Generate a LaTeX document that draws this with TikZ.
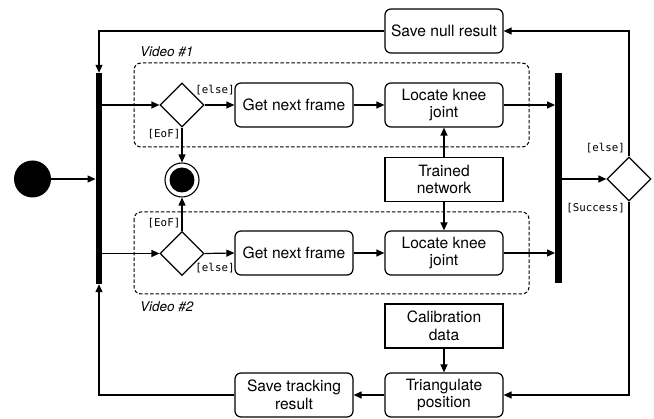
\documentclass[tikz,border=0pt]{standalone}
\usepackage{fontspec}
\setmainfont{TeX Gyre Heros}
\newfontfamily\guardfont{DejaVu Sans Mono}
\usetikzlibrary{shapes.geometric,arrows.meta}

\tikzset{
  act/.style={draw, rounded corners=6pt, line width=1.2pt, minimum width=118pt,
    minimum height=44pt, inner sep=1pt, align=center,
    font=\fontsize{15.6}{17.5}\selectfont},
  obj/.style={act, rounded corners=0pt},
  decision/.style={draw, diamond, aspect=1, line width=1.2pt, minimum width=44pt,
    minimum height=44pt, inner sep=0pt},
  syncbar/.style={fill=black, draw=none, inner sep=0pt, minimum width=6.5pt},
  arr/.style={line width=1.2pt, -{Triangle[length=8pt,width=7pt]}},
  guard/.style={font=\guardfont\fontsize{10.8}{12}\selectfont, inner sep=0pt},
  grouplabel/.style={font=\fontsize{13.5}{16}\selectfont\itshape, inner sep=0pt, anchor=west},
  groupbox/.style={draw, dash pattern=on 3.5pt off 2pt, line width=1pt, rounded corners=7pt},
}

\begin{document}
\begin{tikzpicture}[x=1pt, y=-1pt]
\useasboundingbox (0,0) rectangle (654,419);

% frames for the two videos
\draw[groupbox] (134,63) rectangle (529,147);
\draw[groupbox] (134,212) rectangle (529,294);
\node[grouplabel] (v1) at (140,52) {Video \#1};
\node[grouplabel] (v2) at (140,307) {Video \#2};

% initial node, fork and join bars
\node[circle, fill=black, minimum size=37pt, inner sep=0pt] (start) at (32.5,179) {};
\node[syncbar, minimum height=211pt] (fork) at (99,178.5) {};
\node[syncbar, minimum height=210pt] (join) at (558.5,178) {};

% final node
\node[circle, draw, line width=1.1pt, minimum size=34pt, inner sep=0pt] (final) at (182,180) {};
\fill (final) circle (12.5pt);

% first video branch
\node[decision] (d1) at (182,105) {};
\node[act] (get1) at (294,105) {Get next frame};
\node[act] (loc1) at (444,105) {Locate knee\\joint};

% second video branch
\node[decision] (d2) at (182,253.5) {};
\node[act] (get2) at (294,253) {Get next frame};
\node[act] (loc2) at (444,253) {Locate knee\\joint};

% shared data and remaining actions
\node[obj] (net) at (444,179.5) {Trained\\network};
\node[obj] (cal) at (444,326) {Calibration\\data};
\node[act] (tri) at (444,395) {Triangulate\\position};
\node[act] (save) at (294,395) {Save tracking\\result};
\node[act] (null) at (444,31) {Save null result};
\node[decision] (dr) at (629,179) {};

% guards
\node[guard] (g1e) at (215,90) {[else]};
\node[guard] (g1f) at (164,134) {[EoF]};
\node[guard] (g2e) at (215,268) {[else]};
\node[guard] (g2f) at (164,223) {[EoF]};
\node[guard, anchor=east] (gre) at (625,148) {[else]};
\node[guard, anchor=east] (grs) at (625,208) {[Success]};

% flows
\draw[arr] (start) -- (start -| fork.west);
\draw[arr] (fork.east |- d1) -- (d1.west);
\draw[arr] (fork.east |- d2) -- (d2.west);
\draw[arr] (d1.east) -- (get1.west);
\draw[arr] (get1) -- (loc1);
\draw[arr] (loc1.east) -- (loc1.east -| join.west);
\draw[arr] (d2.east) -- (get2.west);
\draw[arr] (get2) -- (loc2);
\draw[arr] (loc2.east) -- (loc2.east -| join.west);
\draw[arr] (d1.south) -- (final.north);
\draw[arr] (d2.north) -- (final.south);
\draw[arr] (net.north) -- (loc1.south);
\draw[arr] (net.south) -- (loc2.north);
\draw[arr] (join.east |- dr) -- (dr.west);
\draw[arr] (dr.north) |- (null.east);
\draw[arr] (dr.south) |- (tri.east);
\draw[arr] (cal.south) -- (tri.north);
\draw[arr] (tri.west) -- (save.east);
\draw[arr] (save.west) -| (fork.south);
\draw[arr] (null.west) -| (fork.north);
\end{tikzpicture}
\end{document}
